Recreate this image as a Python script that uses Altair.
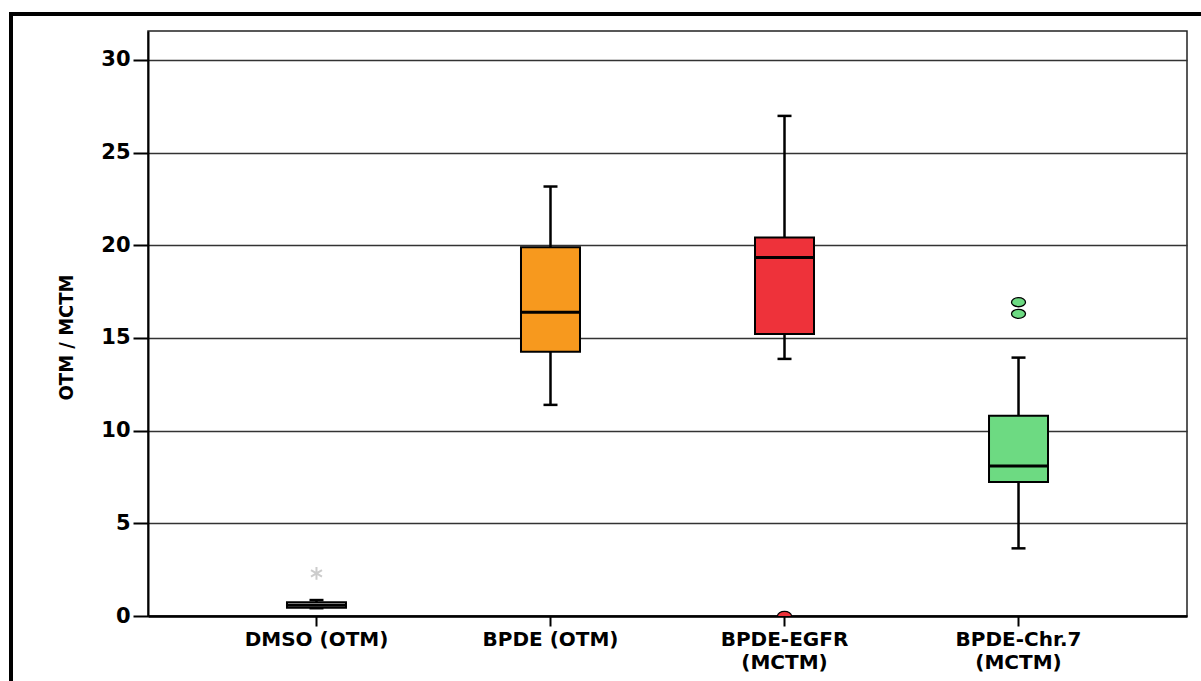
import altair as alt
import pandas as pd

groups = ["DMSO (OTM)", "BPDE (OTM)", "BPDE-EGFR|(MCTM)", "BPDE-Chr.7|(MCTM)"]
colors = ["#d9d9d9", "#F7991E", "#EE323A", "#6DDA82"]
whisker_lo = [0.42, 11.39, 13.87, 3.65]
q1 = [0.45, 14.25, 15.22, 7.23]
median = [0.58, 16.39, 19.34, 8.09]
q3 = [0.74, 19.90, 20.42, 10.80]
whisker_hi = [0.86, 23.17, 26.98, 13.94]

circle_group = ["BPDE-EGFR|(MCTM)", "BPDE-Chr.7|(MCTM)", "BPDE-Chr.7|(MCTM)"]
circle_value = [0.0, 16.93, 16.30]
star_group = ["DMSO (OTM)"]
star_value = [2.30]

y_ticks = [0, 5, 10, 15, 20, 25, 30]
y_max = 31.56

stats = pd.DataFrame({
    "group": groups, "lo": whisker_lo, "q1": q1, "med": median,
    "q3": q3, "hi": whisker_hi,
})
circles = pd.DataFrame({"group": circle_group, "value": circle_value})
stars = pd.DataFrame({"group": star_group, "value": star_value})

x_enc = alt.X(
    "group:N", sort=groups, title=None,
    scale=alt.Scale(paddingInner=0, paddingOuter=0.22),
    axis=alt.Axis(
        labelAngle=0, labelExpr="split(datum.label, '|')",
        labelFont="DejaVu Sans", labelFontWeight="bold", labelFontSize=20,
        labelColor="black", labelLineHeight=23, labelPadding=3,
        tickSize=10, tickWidth=2, tickColor="black",
        domainColor="black", domainWidth=2.5, grid=False,
    ),
)
y_scale = alt.Scale(domain=[0, y_max], nice=False, zero=True)
y_axis = alt.Axis(
    values=y_ticks, title="OTM / MCTM",
    titleFont="DejaVu Sans Condensed", titleFontWeight="bold",
    titleFontSize=20, titleColor="black", titlePadding=24, titleY=306,
    labelFont="DejaVu Sans", labelFontWeight="bold", labelFontSize=21,
    labelColor="black", labelPadding=3,
    tickSize=15, tickWidth=2, tickColor="black",
    domainColor="black", domainWidth=2,
    grid=True, gridColor="#333333", gridWidth=1.3, gridOpacity=1,
)
color_enc = alt.Color("group:N", scale=alt.Scale(domain=groups, range=colors), legend=None)

base = alt.Chart(stats)

whisker = base.mark_rule(color="black", strokeWidth=2.5, opacity=1).encode(
    x=x_enc, y=alt.Y("lo:Q", scale=y_scale, axis=y_axis), y2="hi:Q"
)
cap_lo = base.mark_tick(color="black", size=14, thickness=2.5, opacity=1).encode(
    x=x_enc, y=alt.Y("lo:Q", scale=y_scale)
)
cap_hi = base.mark_tick(color="black", size=14, thickness=2.5, opacity=1).encode(
    x=x_enc, y=alt.Y("hi:Q", scale=y_scale)
)
box = base.mark_bar(size=59, stroke="black", strokeWidth=2, opacity=1).encode(
    x=x_enc, y=alt.Y("q1:Q", scale=y_scale), y2="q3:Q", color=color_enc
)
med = base.mark_tick(color="black", size=59, thickness=3, opacity=1).encode(
    x=x_enc, y=alt.Y("med:Q", scale=y_scale)
)

ellipse = "M-1,0A1,0.65,0,1,1,1,0A1,0.65,0,1,1,-1,0Z"
outl = alt.Chart(circles).mark_point(
    shape=ellipse, size=196, filled=True, stroke="black", strokeWidth=1.3,
    opacity=1, clip=True,
).encode(
    x=x_enc, y=alt.Y("value:Q", scale=y_scale),
    fill=alt.Fill("group:N", scale=alt.Scale(domain=groups, range=colors), legend=None),
)
asterisk = "M0,-1L0,1M-0.87,-0.5L0.87,0.5M-0.87,0.5L0.87,-0.5"
star = alt.Chart(stars).mark_point(
    shape=asterisk, size=160, filled=False, stroke="#cccccc", strokeWidth=2, opacity=1
).encode(x=x_enc, y=alt.Y("value:Q", scale=y_scale))

one = pd.DataFrame({"a": [0]})
frame_top = alt.Chart(one).mark_rule(color="black", strokeWidth=4).encode(
    x=alt.value(-137), x2=alt.value(1060), y=alt.value(-17)
)
frame_left = alt.Chart(one).mark_rule(color="black", strokeWidth=4).encode(
    x=alt.value(-137), y=alt.value(-19), y2=alt.value(660)
)

chart = alt.layer(
    frame_top, frame_left, whisker, cap_lo, cap_hi, box, med, outl, star
).properties(
    width=1039, height=585,
    autosize=alt.AutoSizeParams(type="none"),
    padding={"left": 148, "top": 31, "right": 14, "bottom": 65},
    background="white",
).configure_view(stroke="#222222", strokeWidth=1.5)

chart.save("out.html", embed_options={"renderer": "svg", "actions": False})
